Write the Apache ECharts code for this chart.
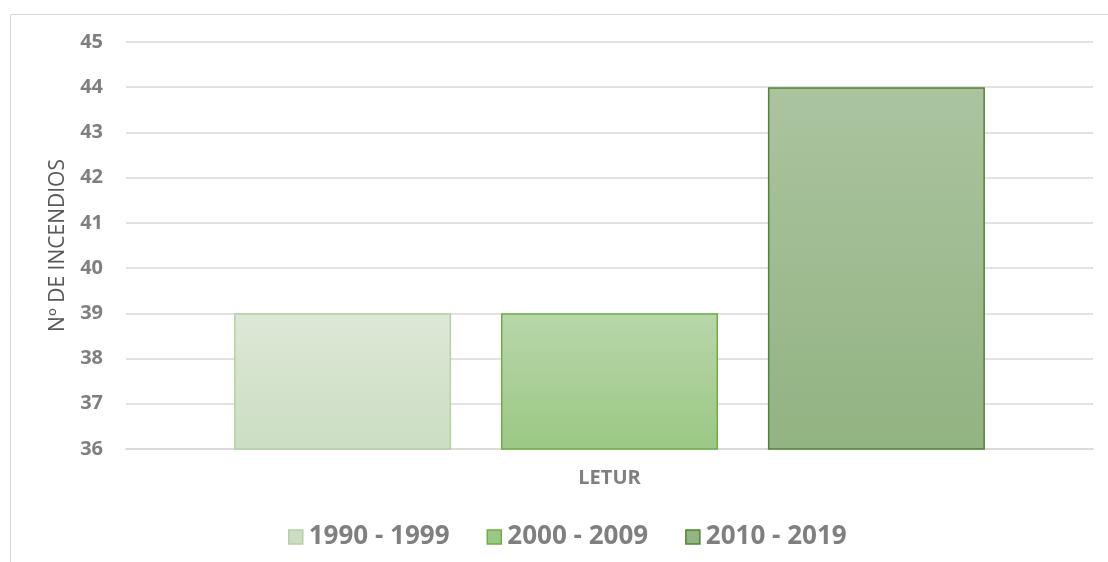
<!DOCTYPE html>
<html>
<head>
<meta charset="utf-8">
<script src="https://cdn.jsdelivr.net/npm/echarts@6/dist/echarts.min.js"></script>
<style>
  html, body { margin: 0; padding: 0; background: #fff; }
  #chart { width: 1108px; height: 562px; }
</style>
</head>
<body>
<div id="chart"></div>
<script>
var categories = ['LETUR'];
var seriesNames = ['1990 - 1999', '2000 - 2009', '2010 - 2019'];
var seriesValues = [[39], [39], [44]];
var yTicks = { min: 36, max: 45, step: 1 };

// colores: arriba, abajo, borde
var colors = [
  ['#dde8d6', '#cbdec3', '#b3d1a6'],
  ['#b7d7a9', '#9bc884', '#70ad47'],
  ['#abc4a0', '#92b382', '#548235']
];

var chart = echarts.init(document.getElementById('chart'));

var series = seriesNames.map(function (name, i) {
  return {
    name: name,
    type: 'bar',
    data: seriesValues[i],
    barWidth: 217,
    barGap: '23%',
    itemStyle: {
      color: new echarts.graphic.LinearGradient(0, 0, 0, 1, [
        { offset: 0, color: colors[i][0] },
        { offset: 1, color: colors[i][1] }
      ]),
      borderColor: colors[i][2],
      borderWidth: 1.5
    }
  };
});

var option = {
  animation: false,
  graphic: [{
    type: 'rect',
    left: 8, top: 12,
    shape: { width: 1200, height: 600 },
    style: { fill: 'none', stroke: '#d9d9d9', lineWidth: 1 }
  }],
  grid: { left: 126, right: 15, top: 42, bottom: 113 },
  legend: {
    top: 519,
    left: 283,
    itemWidth: 14,
    itemHeight: 14,
    itemGap: 37,
    icon: 'rect',
    textStyle: { color: '#7f7f7f', fontSize: 26, fontWeight: 'bold', fontFamily: 'Open Sans', padding: [0, 0, 0, 1] },
    data: seriesNames.map(function (n, i) {
      return { name: n, itemStyle: { color: colors[i][1], borderColor: colors[i][2], borderWidth: 1.5 } };
    })
  },
  xAxis: {
    type: 'category',
    data: categories,
    axisTick: { show: false },
    axisLine: { lineStyle: { color: '#d9d9d9', width: 1.5 } },
    axisLabel: { color: '#7f7f7f', fontSize: 20, fontWeight: 'bold', fontFamily: 'Open Sans', margin: 19 }
  },
  yAxis: {
    type: 'value',
    min: yTicks.min,
    max: yTicks.max,
    interval: yTicks.step,
    name: 'Nº DE INCENDIOS',
    nameLocation: 'middle',
    nameGap: 57,
    nameTextStyle: { color: '#595959', fontSize: 21, fontFamily: 'Open Sans' },
    axisLine: { show: false },
    axisTick: { show: false },
    axisLabel: { color: '#7f7f7f', fontSize: 20, fontWeight: 'bold', fontFamily: 'Open Sans', margin: 23 },
    splitLine: { lineStyle: { color: '#d9d9d9', width: 1.5 } }
  },
  series: series
};

chart.setOption(option);
</script>
</body>
</html>
